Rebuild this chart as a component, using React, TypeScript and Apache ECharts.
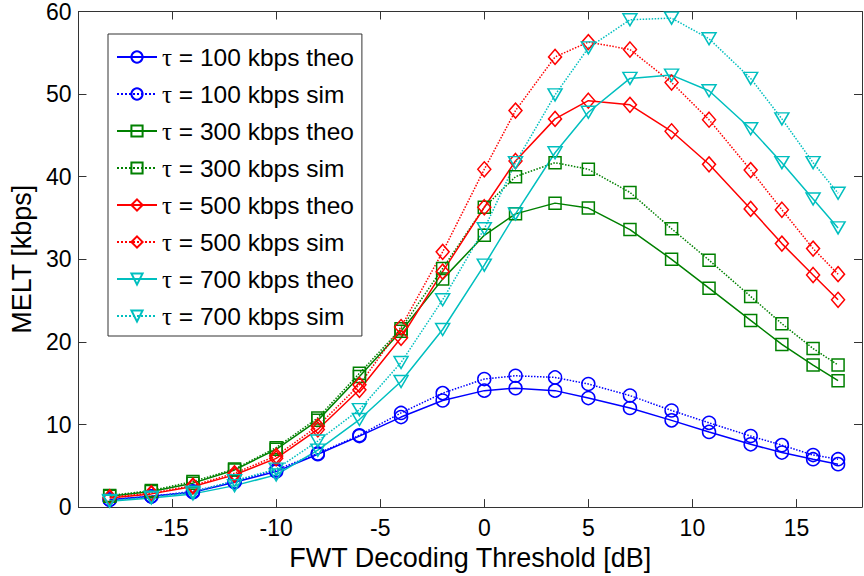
import React, { useEffect, useRef } from "react";
import * as echarts from "echarts";

const xValues = [-18, -16, -14, -12, -10, -8, -6, -4, -2, 0, 1.5, 3.4, 5, 7, 9, 10.8, 12.8, 14.3, 15.8, 17];

const blueTheo = [0.9, 1.3, 1.8, 3.0, 4.3, 6.4, 8.6, 10.9, 12.9, 14.1, 14.4, 14.1, 13.2, 12.0, 10.5, 9.1, 7.6, 6.6, 5.8, 5.2];
const blueSim = [0.9, 1.3, 1.9, 3.1, 4.5, 6.5, 8.7, 11.4, 13.8, 15.5, 15.9, 15.7, 14.9, 13.5, 11.7, 10.2, 8.6, 7.5, 6.3, 5.8];
const greenTheo = [1.3, 1.9, 2.9, 4.5, 7.0, 10.5, 15.8, 21.3, 27.6, 32.9, 35.5, 36.8, 36.2, 33.6, 30.0, 26.5, 22.6, 19.7, 17.2, 15.3];
const greenSim = [1.4, 2.0, 3.1, 4.6, 7.2, 10.8, 16.2, 21.6, 28.9, 36.3, 40.0, 41.7, 40.9, 38.1, 33.7, 29.9, 25.5, 22.2, 19.2, 17.2];
const redTheo = [1.1, 1.6, 2.5, 3.9, 5.9, 9.4, 14.2, 20.5, 28.5, 36.3, 41.9, 47.0, 49.2, 48.7, 45.5, 41.5, 36.1, 31.9, 28.1, 25.1];
const redSim = [1.2, 1.7, 2.6, 4.1, 6.2, 9.8, 14.8, 21.8, 30.9, 40.9, 48.0, 54.5, 56.3, 55.4, 51.4, 46.9, 40.8, 36.0, 31.3, 28.2];
const cyanTheo = [0.7, 1.1, 1.6, 2.6, 3.9, 6.9, 10.6, 15.2, 21.5, 29.3, 35.5, 42.9, 47.8, 51.9, 52.3, 50.4, 45.8, 41.7, 37.3, 33.8];
const cyanSim = [0.8, 1.2, 1.8, 3.2, 4.6, 8.0, 11.8, 17.5, 25.1, 33.7, 41.7, 49.9, 55.6, 59.0, 59.2, 56.7, 51.9, 47.0, 41.7, 38.0];

const seriesNames = [
  "τ = 100 kbps theo",
  "τ = 100 kbps sim",
  "τ = 300 kbps theo",
  "τ = 300 kbps sim",
  "τ = 500 kbps theo",
  "τ = 500 kbps sim",
  "τ = 700 kbps theo",
  "τ = 700 kbps sim",
];

const xTicks = [-15, -10, -5, 0, 5, 10, 15];
const yTicks = [0, 10, 20, 30, 40, 50, 60];

const FONT = "Liberation Sans";

function mk(
  name: string,
  values: number[],
  color: string,
  dotted: boolean,
  symbol: string,
  size: number | number[],
  rotate: number
) {
  return {
    type: "line",
    name,
    data: xValues.map((x, i) => [x, values[i]]),
    symbol,
    symbolSize: size,
    symbolRotate: rotate,
    showSymbol: true,
    showAllSymbol: true,
    silent: true,
    lineStyle: { color, width: 1.5, type: dotted ? "dotted" : "solid" },
    itemStyle: { color: "rgba(255,255,255,0)", borderColor: color, borderWidth: 1.5 },
    emphasis: { disabled: true },
  };
}

export default function App() {
  const ref = useRef<HTMLDivElement>(null);
  useEffect(() => {
    const chart = echarts.init(ref.current!, null, { renderer: "svg" });
    const axisLineStyle = { color: "#333", width: 1 };
    const option: any = {
      animation: false,
      backgroundColor: "#fff",
      grid: { left: 78, right: 2, top: 10, bottom: 68, containLabel: false },
      xAxis: [
        {
          type: "value",
          min: -19.5,
          max: 18.15,
          position: "bottom",
          name: "FWT Decoding Threshold [dB]",
          nameLocation: "middle",
          nameGap: 31,
          nameTextStyle: { fontSize: 27, fontFamily: FONT, color: "#000" },
          axisLine: { show: true, onZero: false, lineStyle: axisLineStyle },
          axisTick: { show: true, inside: true, length: 8, customValues: xTicks, lineStyle: axisLineStyle },
          axisLabel: { show: true, customValues: xTicks, fontSize: 23, fontFamily: FONT, color: "#000", margin: 9 },
          splitLine: { show: false },
        },
        {
          type: "value",
          min: -19.5,
          max: 18.15,
          position: "top",
          axisLine: { show: true, onZero: false, lineStyle: axisLineStyle },
          axisTick: { show: true, inside: true, length: 8, customValues: xTicks, lineStyle: axisLineStyle },
          axisLabel: { show: false },
          splitLine: { show: false },
        },
      ],
      yAxis: [
        {
          type: "value",
          min: 0,
          max: 60,
          interval: 10,
          position: "left",
          name: "MELT [kbps]",
          nameLocation: "middle",
          nameGap: 38,
          nameTextStyle: { fontSize: 27, fontFamily: FONT, color: "#000" },
          axisLine: { show: true, onZero: false, lineStyle: axisLineStyle },
          axisTick: { show: true, inside: true, length: 8, customValues: yTicks, lineStyle: axisLineStyle },
          axisLabel: { show: true, customValues: yTicks, fontSize: 23, fontFamily: FONT, color: "#000", margin: 7 },
          splitLine: { show: false },
        },
        {
          type: "value",
          min: 0,
          max: 60,
          interval: 10,
          position: "right",
          axisLine: { show: true, onZero: false, lineStyle: axisLineStyle },
          axisTick: { show: true, inside: true, length: 8, customValues: yTicks, lineStyle: axisLineStyle },
          axisLabel: { show: false },
          splitLine: { show: false },
        },
      ],
      legend: {
        show: true,
        orient: "vertical",
        left: 108,
        top: 34,
        padding: [9, 8, 6, 8],
        itemGap: 9,
        itemWidth: 40,
        itemHeight: 14,
        backgroundColor: "#fff",
        borderColor: "#333",
        borderWidth: 1,
        selectedMode: false,
        data: seriesNames,
        formatter: (name: string) => "{t|τ}" + name.slice(1),
        textStyle: {
          fontSize: 24.5,
          fontFamily: FONT,
          color: "#000",
          lineHeight: 28,
          rich: { t: { fontSize: 25, fontFamily: "Liberation Serif", color: "#000", lineHeight: 28 } },
        },
      },
      series: [
        mk(seriesNames[0], blueTheo, "#0000FF", false, "circle", 13, 0),
        mk(seriesNames[1], blueSim, "#0000FF", true, "circle", 13, 0),
        mk(seriesNames[2], greenTheo, "#008000", false, "rect", 12, 0),
        mk(seriesNames[3], greenSim, "#008000", true, "rect", 12, 0),
        mk(seriesNames[4], redTheo, "#FF0000", false, "diamond", [13, 15], 0),
        mk(seriesNames[5], redSim, "#FF0000", true, "diamond", [13, 15], 0),
        mk(seriesNames[6], cyanTheo, "#00BFBF", false, "triangle", [14, 12], 180),
        mk(seriesNames[7], cyanSim, "#00BFBF", true, "triangle", [14, 12], 180),
      ],
    };
    chart.setOption(option);
    return () => chart.dispose();
  }, []);
  return (
    <div
      ref={ref}
      style={{ position: "absolute", left: 0, top: 0, width: 864, height: 576, background: "#fff" }}
    />
  );
}
